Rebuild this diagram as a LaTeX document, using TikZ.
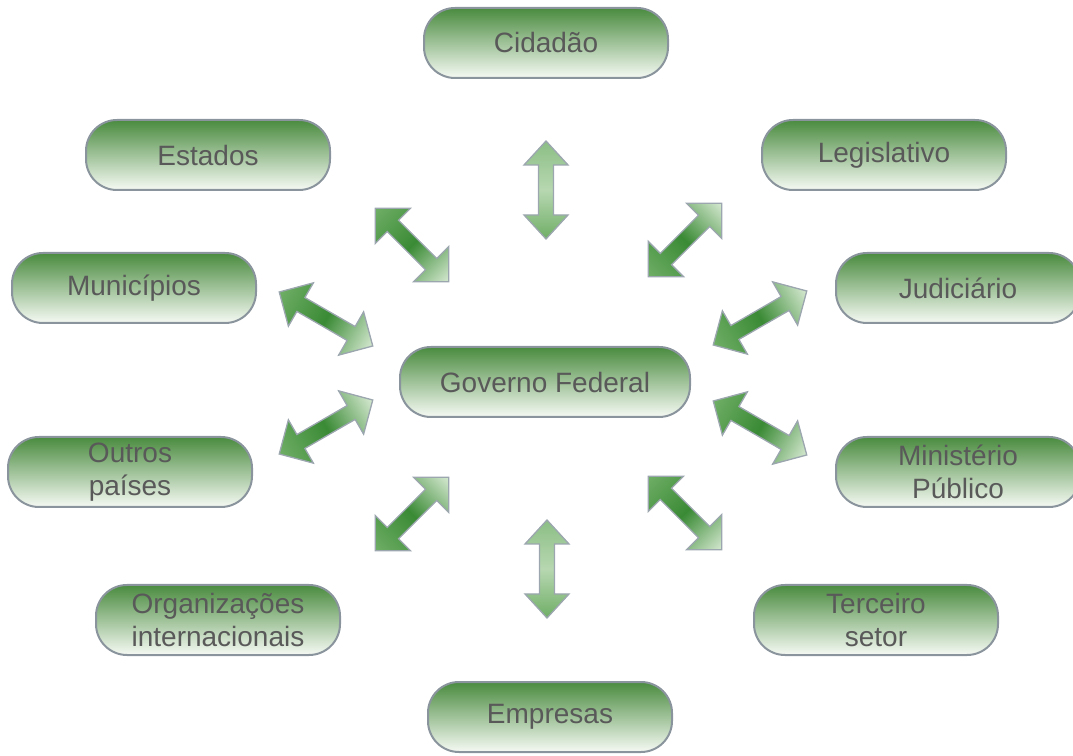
\documentclass[tikz,border=0pt]{standalone}
\usepackage{fontspec}
\setmainfont{Liberation Sans}
\definecolor{boxTop}{HTML}{4A8B3F}
\definecolor{boxBottom}{HTML}{F6FAF4}
\definecolor{boxEdge}{HTML}{8A949C}
\definecolor{textGray}{HTML}{595959}
\definecolor{armDark}{HTML}{3A8A35}
\definecolor{armMid}{HTML}{6FAE66}
\definecolor{armLight}{HTML}{D6E9D1}
\definecolor{arrowEdge}{HTML}{9BA6AE}
\tikzset{
  actor/.style={draw=boxEdge, line width=2pt, rounded corners=31pt,
    top color=boxTop, bottom color=boxBottom, minimum width=244pt,
    minimum height=70pt, inner sep=0pt, align=center, text=textGray,
    font=\fontsize{28}{33}\selectfont},
  diagarrow/.style={draw=arrowEdge, line width=1.3pt, line join=miter,
    left color=armMid, right color=armLight, middle color=armDark},
  vertarrow/.style={draw=arrowEdge, line width=1.3pt, line join=miter,
    left color=armMid, right color=armMid!80, middle color=armLight!70!armMid},
}
% #1 x, #2 y, #3 angle, #4 style, #5 half length, #6 head half width, #7 shaft half width, #8 head length
\newcommand\blockdbl[8]{%
  \begin{scope}[transform canvas={shift={(#1,#2)},rotate=#3}]
    \pgfmathsetmacro\bx{#5-#8}
    \path[#4] (-#5,0) -- (-\bx,#6) -- (-\bx,#7) -- (\bx,#7) -- (\bx,#6) -- (#5,0)
      -- (\bx,-#6) -- (\bx,-#7) -- (-\bx,-#7) -- (-\bx,-#6) -- cycle;
  \end{scope}}
\begin{document}
\begin{tikzpicture}[x=1pt,y=1pt]
\useasboundingbox (0,0) rectangle (1073,755);
\node[actor] (cid) at (546,712) {Cidadão};
\node[actor] (est) at (208,600) {Estados};
\node[actor] (leg) at (884,600) {Legislativo};
\node[actor] (mun) at (134,467) {Municípios};
\node[actor] (jud) at (958,467) {Judiciário};
\node[actor, minimum width=290pt] (gov) at (545,373) {Governo Federal};
\node[actor] (out) at (130,283) {Outros\\países};
\node[actor] (min) at (958,283) {Ministério\\Público};
\node[actor] (org) at (218,135) {Organizações\\internacionais};
\node[actor] (ter) at (876,135) {Terceiro\\setor};
\node[actor] (emp) at (550,38) {Empresas};
% block double arrows
\blockdbl{546}{565}{90}{vertarrow}{49}{22}{7.5}{24}
\blockdbl{547}{186}{90}{vertarrow}{49}{22}{7.5}{24}
\blockdbl{412}{510}{-45}{diagarrow}{52}{25}{8}{25}
\blockdbl{685}{515}{45}{diagarrow}{52}{25}{8}{25}
\blockdbl{326}{436}{-30}{diagarrow}{54}{25}{8}{25}
\blockdbl{760}{437}{30}{diagarrow}{54}{25}{8}{25}
\blockdbl{326}{328}{30}{diagarrow}{54}{25}{8}{25}
\blockdbl{760}{327}{-30}{diagarrow}{54}{25}{8}{25}
\blockdbl{412}{241}{45}{diagarrow}{52}{25}{8}{25}
\blockdbl{685}{242}{-45}{diagarrow}{52}{25}{8}{25}
\end{tikzpicture}
\end{document}
